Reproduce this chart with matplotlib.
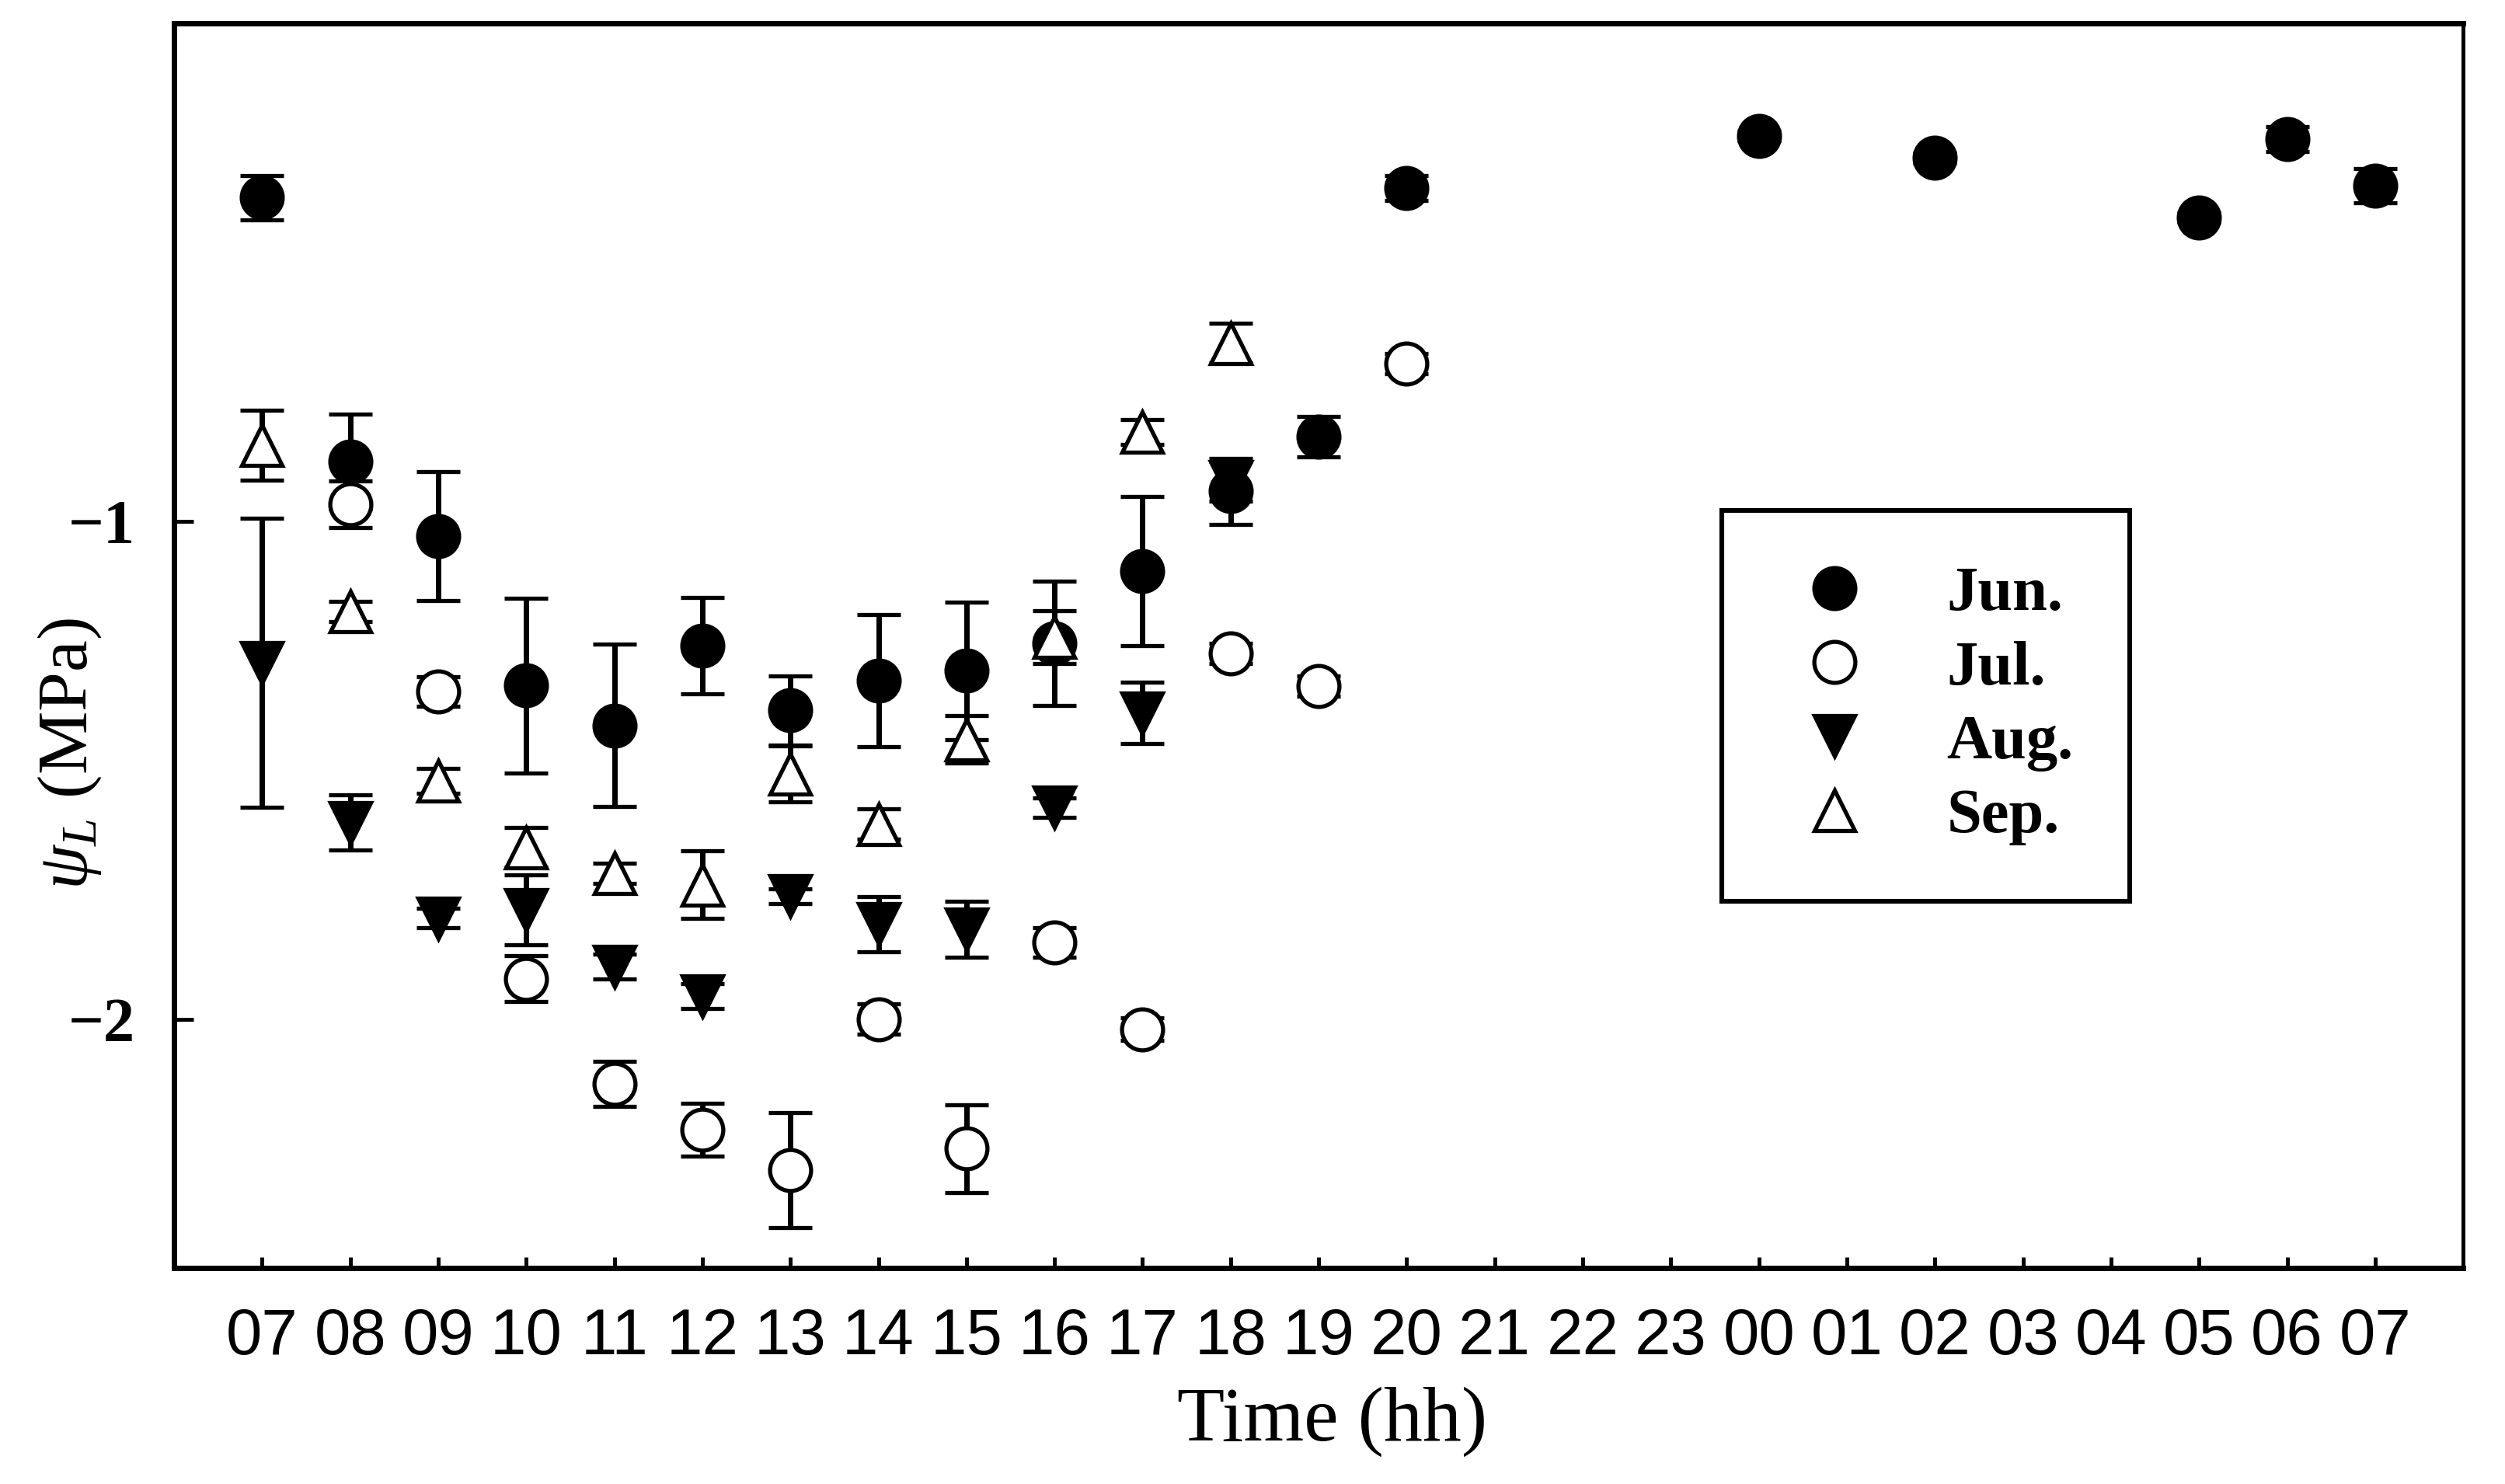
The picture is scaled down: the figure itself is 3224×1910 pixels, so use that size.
import matplotlib

matplotlib.use("Agg")
import matplotlib.pyplot as plt
from matplotlib.lines import Line2D

# x axis: clock hours from 07:00 on day 1 to 07:00 on day 2 (24 -> 00, 31 -> 07)
tick_hours = list(range(7, 32))
tick_labels = ["07", "08", "09", "10", "11", "12", "13", "14", "15", "16", "17", "18", "19",
               "20", "21", "22", "23", "00", "01", "02", "03", "04", "05", "06", "07"]

jun_hours = [7, 8, 9, 10, 11, 12, 13, 14, 15, 16, 17, 18, 19, 20, 24, 26, 29, 30, 31]
jun_psi = [-0.35, -0.88, -1.03, -1.33, -1.41, -1.25, -1.38, -1.32, -1.30, -1.245,
           -1.10, -0.94, -0.83, -0.33, -0.226, -0.27, -0.39, -0.232, -0.326]
jun_err = [0.045, 0.095, 0.13, 0.175, 0.163, 0.097, 0.07, 0.133, 0.138, 0.125,
           0.15, 0.066, 0.04, 0.025, 0.01, 0.01, 0.01, 0.025, 0.035]

jul_hours = [8, 9, 10, 11, 12, 13, 14, 15, 16, 17, 18, 19, 20]
jul_psi = [-0.966, -1.342, -1.919, -2.13, -2.222, -2.303, -2.0, -2.26, -1.846,
           -2.02, -1.265, -1.331, -0.683]
jul_err = [0.047, 0.03, 0.046, 0.045, 0.053, 0.115, 0.03, 0.088, 0.03,
           0.023, 0.02, 0.02, 0.02]

aug_hours = [7, 8, 9, 10, 11, 12, 13, 14, 15, 16, 17, 18]
aug_psi = [-1.284, -1.605, -1.797, -1.78, -1.895, -1.953, -1.753, -1.809, -1.82,
           -1.575, -1.385, -0.92]
aug_err = [0.29, 0.056, 0.02, 0.07, 0.025, 0.025, 0.015, 0.055, 0.056,
           0.02, 0.062, 0.04]

sep_hours = [7, 8, 9, 10, 11, 12, 13, 14, 15, 16, 17, 18]
sep_psi = [-0.847, -1.181, -1.521, -1.655, -1.707, -1.73, -1.507, -1.608, -1.438,
           -1.232, -0.82, -0.642]
sep_err = [0.07, 0.02, 0.025, 0.04, 0.02, 0.068, 0.056, 0.03, 0.048,
           0.053, 0.025, 0.04]

plt.rcParams["font.family"] = ["Liberation Serif", "DejaVu Serif"]
plt.rcParams["mathtext.fontset"] = "custom"
plt.rcParams["mathtext.rm"] = "Liberation Serif"
plt.rcParams["mathtext.it"] = "Liberation Serif:italic"

fig = plt.figure(figsize=(16.12, 9.55), dpi=200)
ax = fig.add_axes([0.0695, 0.1455, 0.9138, 0.8387])

series = [
    ("Jun.", jun_hours, jun_psi, jun_err, "o", "black"),
    ("Jul.", jul_hours, jul_psi, jul_err, "o", "white"),
    ("Aug.", aug_hours, aug_psi, aug_err, "v", "black"),
    ("Sep.", sep_hours, sep_psi, sep_err, "^", "white"),
]

handles = []
for label, hrs, psi, err, mk, face in series:
    ax.errorbar(hrs, psi, yerr=err, fmt=mk, ms=19, mfc=face, mec="black", mew=1.9,
                ecolor="black", elinewidth=2.5, capsize=10, capthick=2.5)
    handles.append(Line2D([0], [0], marker=mk, ls="none", ms=19, mfc=face,
                          mec="black", mew=1.9, label=label))

ax.set_xlim(6, 32)
ax.set_ylim(-2.5, 0.0)
ax.set_xticks(tick_hours)
ax.set_xticklabels(tick_labels, fontfamily=["Liberation Sans Narrow", "Liberation Sans"],
                   fontsize=30)
ax.set_yticks([-1, -2])
ax.set_yticklabels(["\u22121", "\u22122"], fontsize=29, fontweight="bold")
ax.tick_params(axis="x", direction="in", length=5, width=1.8, pad=18)
ax.tick_params(axis="y", direction="in", length=9, width=1.8, pad=18)

for side in ("left", "bottom", "top"):
    ax.spines[side].set_linewidth(2.5)
ax.spines["right"].set_linewidth(1.8)

ax.set_xlabel("Time (hh)", fontsize=36)
ax.xaxis.set_label_coords(0.506, -0.095)
ax.set_ylabel(r"$\psi_L$ (MPa)", fontsize=33)
ax.yaxis.set_label_coords(-0.031, 0.413)

leg = ax.legend(handles=handles, loc="upper left", bbox_to_anchor=(0.676, 0.609),
                borderaxespad=0, frameon=True, fancybox=False, edgecolor="black",
                framealpha=1, prop={"family": "Liberation Serif", "weight": "bold", "size": 29},
                borderpad=0.9, handlelength=1.8, handletextpad=0.9, labelspacing=0.27)
leg.get_frame().set_linewidth(2.2)

fig.savefig("out.png", dpi=200)
plt.close(fig)
